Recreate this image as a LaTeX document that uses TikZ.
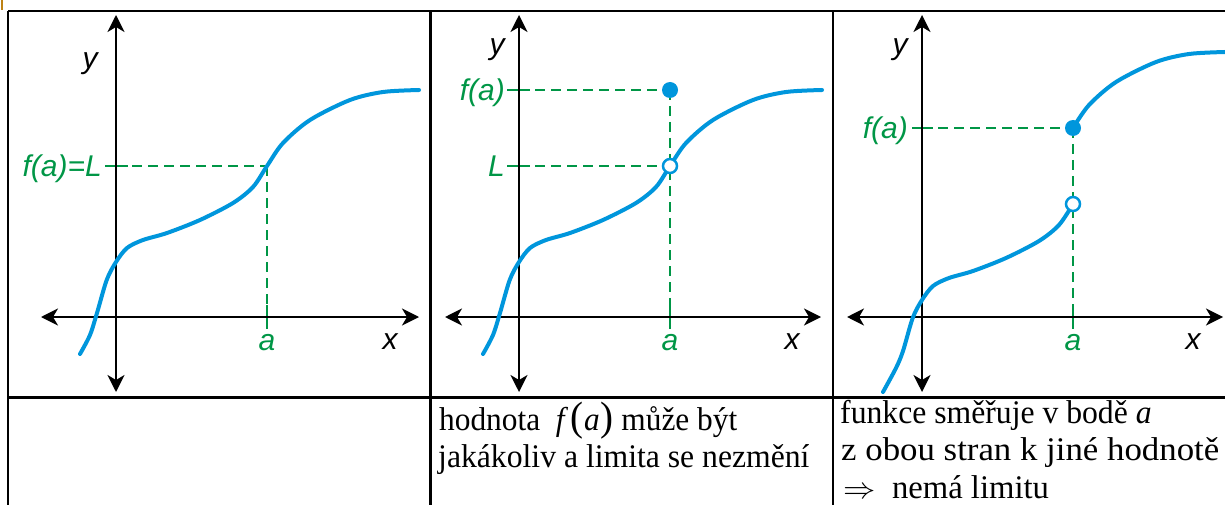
\documentclass[tikz,border=0pt]{standalone}
\usepackage{fontspec}
\setmainfont{Liberation Serif}
\newfontfamily\labfont{Liberation Sans}
\usetikzlibrary{arrows.meta}
\definecolor{cblue}{RGB}{0,150,220}
\definecolor{cgreen}{RGB}{0,150,70}
\definecolor{corange}{RGB}{190,130,20}
\tikzset{
  axis/.style={line width=2pt,black,{Stealth[length=17pt,width=17pt,inset=5pt]}-{Stealth[length=17pt,width=17pt,inset=5pt]}},
  curve/.style={line width=4pt,cblue,line cap=round},
  guide/.style={line width=2.2pt,cgreen,dash pattern=on 10pt off 6pt},
  tick/.style={line width=2.5pt,cgreen},
  lab/.style={font=\labfont\itshape\fontsize{30}{30}\selectfont,inner sep=0pt},
  glab/.style={lab,text=cgreen},
  grid/.style={line width=2.5pt,black},
  txt/.style={font=\fontsize{33}{33}\selectfont,inner sep=0pt,anchor=base west},
  fulldot/.style={circle,fill=cblue,inner sep=0pt,minimum size=16pt},
  opendot/.style={circle,draw=cblue,line width=2.5pt,fill=white,inner sep=0pt,minimum size=14pt},
}
\begin{document}
\begin{tikzpicture}[x=1pt,y=-1pt]
\useasboundingbox (0,0) rectangle (1225,505);
\fill[corange] (1,0) rectangle (3,10);
% table
\draw[grid] (8,11) -- (1225,11);
\draw[grid] (8,11) -- (8,505);
\draw[grid] (430.5,11) -- (430.5,505);
\draw[grid] (833,11) -- (833,505);
\draw[grid] (8,397.5) -- (1225,397.5);

% ---------- panel 1 ----------
\coordinate (y1b) at (116,392); \coordinate (y1t) at (116,15);
\coordinate (x1l) at (41,317);  \coordinate (x1r) at (419,317);
\coordinate (p1) at (267,166);
\coordinate (p1y) at (116,166); \coordinate (p1x) at (267,317);
\draw[guide] (p1y) -- (p1);
\draw[guide] (p1) -- (p1x);
\draw[tick] (105,166) -- (128,166);
\draw[tick] (267,305) -- (267,329);
\draw[axis] (x1l) -- (x1r);
\draw[axis] (y1b) -- (y1t);
\draw[curve] plot[smooth] coordinates {(80,354) (90,335) (97,313) (106.7,280) (116,262) (127,248) (143,240) (167,233) (200,220) (233,203) (253,187) (267,166) (283,143) (310,120) (350,100) (383,92) (419,90)};
\node[lab] (ylab1) at (90,64) {y};
\node[lab] (xlab1) at (390,342) {x};
\node[glab] (alab1) at (267,343) {a};
\node[glab,anchor=base east] (flab1) at (102,177) {f(a)=L};

% ---------- panel 2 ----------
\begin{scope}[shift={(403,0)}]
\coordinate (y2b) at (116,392); \coordinate (y2t) at (116,15);
\coordinate (x2l) at (42,317);  \coordinate (x2r) at (418,317);
\coordinate (p2) at (267,166);
\coordinate (q2) at (267,90);
\draw[guide] (116,90) -- (q2);
\draw[guide] (116,166) -- (p2);
\draw[guide] (q2) -- (267,317);
\draw[tick] (104,90) -- (127,90);
\draw[tick] (104,166) -- (127,166);
\draw[tick] (267,305) -- (267,329);
\draw[axis] (x2l) -- (x2r);
\draw[axis] (y2b) -- (y2t);
\draw[curve] plot[smooth] coordinates {(80,354) (90,335) (97,313) (106.7,280) (116,262) (127,248) (143,240) (167,233) (200,220) (233,203) (253,187) (267,166) (283,143) (310,120) (350,100) (383,92) (419,90)};
\node[fulldot] (fd2) at (q2) {};
\node[opendot] (od2) at (p2) {};
\node[lab] (ylab2) at (94,50) {y};
\node[lab] (xlab2) at (389,342) {x};
\node[glab] (alab2) at (267,343) {a};
\node[glab,anchor=base east] (flab2) at (102,101) {f(a)};
\node[glab,anchor=base east] (llab2) at (102,177) {L};
\end{scope}

% ---------- panel 3 ----------
\begin{scope}[shift={(806,0)}]
\coordinate (y3b) at (116,392); \coordinate (y3t) at (116,15);
\coordinate (x3l) at (41,317);  \coordinate (x3r) at (417,317);
\coordinate (q3) at (267,128);
\coordinate (p3) at (267,204);
\draw[guide] (116,128) -- (q3);
\draw[guide] (q3) -- (267,317);
\draw[tick] (106,128) -- (127,128);
\draw[tick] (267,305) -- (267,329);
\draw[axis] (x3l) -- (x3r);
\draw[axis] (y3b) -- (y3t);
\begin{scope}[shift={(0,38)}]
\draw[curve] plot[smooth] coordinates {(77,354) (90,330) (97,313) (106.7,280) (116,262) (127,248) (143,240) (167,233) (200,220) (233,203) (253,187) (267,166)};
\end{scope}
\begin{scope}[shift={(0,-38)}]
\draw[curve] plot[smooth] coordinates {(267,166) (283,143) (310,120) (350,100) (383,92) (419,90)};
\end{scope}
\node[fulldot] (fd3) at (q3) {};
\node[opendot] (od3) at (p3) {};
\node[lab] (ylab3) at (94,50) {y};
\node[lab] (xlab3) at (387,342) {x};
\node[glab] (alab3) at (267,343) {a};
\node[glab,anchor=base east] (flab3) at (102,139) {f(a)};
\end{scope}

% ---------- bottom texts ----------
\node[txt] (t21) at (439,430) {\scalebox{0.95}[1]{hodnota \ \textit{f}\kern2pt{\fontsize{41}{41}\selectfont(}\kern1pt\textit{a}\kern1pt{\fontsize{41}{41}\selectfont)} může být}};
\node[txt] (t22) at (438,467) {\scalebox{0.96}[1]{jakákoliv a limita se nezmění}};
\node[txt] (t31) at (840,423) {\scalebox{0.96}[1]{funkce směřuje v bodě \textit{a}}};
\node[txt] (t32) at (841,460) {\scalebox{1.055}[1]{z obou stran k jiné hodnotě}};
\node[txt] (t33) at (843,498) {\scalebox{1.3}[1.2]{$\Rightarrow$}\ \ \scalebox{0.99}[1]{nemá limitu}};
\end{tikzpicture}
\end{document}
